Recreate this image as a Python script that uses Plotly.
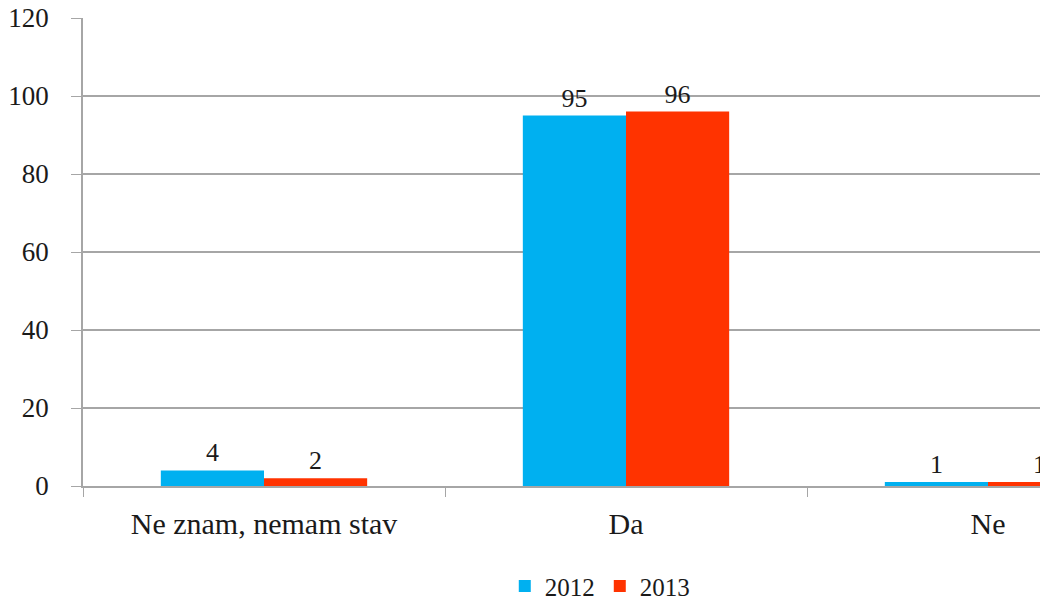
import plotly.graph_objects as go

categories = ["Ne znam, nemam stav", "Da", "Ne"]
series_names = ["2012", "2013"]
values_2012 = [4, 95, 1]
values_2013 = [2, 96, 1]
y_ticks = [0, 20, 40, 60, 80, 100, 120]

colors = ["#00B0F0", "#FF3300"]
font_family = "Liberation Serif"

fig = go.Figure()
for name, vals, col in zip(series_names, [values_2012, values_2013], colors):
    fig.add_trace(go.Bar(
        x=categories, y=vals, name=name,
        marker=dict(color=col, line=dict(width=0)),
        text=[str(v) for v in vals], textposition="outside",
        textfont=dict(family=font_family, size=26, color="#1a1a1a"),
        cliponaxis=False,
    ))

fig.update_layout(
    width=1040, height=600,
    margin=dict(l=83, r=0, t=18, b=114, autoexpand=False),
    paper_bgcolor="white", plot_bgcolor="white",
    barmode="group", bargap=0.43, bargroupgap=0,
    font=dict(family=font_family, size=26, color="#1a1a1a"),
    showlegend=True,
    legend=dict(orientation="h", x=0.54, xanchor="center", y=-0.214, yanchor="middle",
                font=dict(family=font_family, size=25), itemwidth=30),
    xaxis=dict(
        range=[-0.5, -0.5 + 957 / 362], automargin=False,
        showline=True, linecolor="#A6A6A6", linewidth=1.5,
        ticks="outside", tickson="boundaries", ticklen=9, tickcolor="#A6A6A6",
        showgrid=False, tickfont=dict(family=font_family, size=30),
        ticklabelstandoff=10, ticklabeloverflow="allow",
    ),
    yaxis=dict(
        range=[0, 120], tickvals=y_ticks, automargin=False,
        showline=True, linecolor="#A6A6A6", linewidth=1.5,
        ticks="outside", ticklen=10, tickcolor="#A6A6A6",
        showgrid=True, gridcolor="#A6A6A6", gridwidth=1.5,
        zeroline=False, tickfont=dict(family=font_family, size=27),
        ticklabelstandoff=17, ticklabeloverflow="allow",
    ),
)

fig.write_html(
    "out.html",
    config={"displayModeBar": False},
    post_script="document.body.style.margin='0';document.body.style.overflow='hidden';",
)
